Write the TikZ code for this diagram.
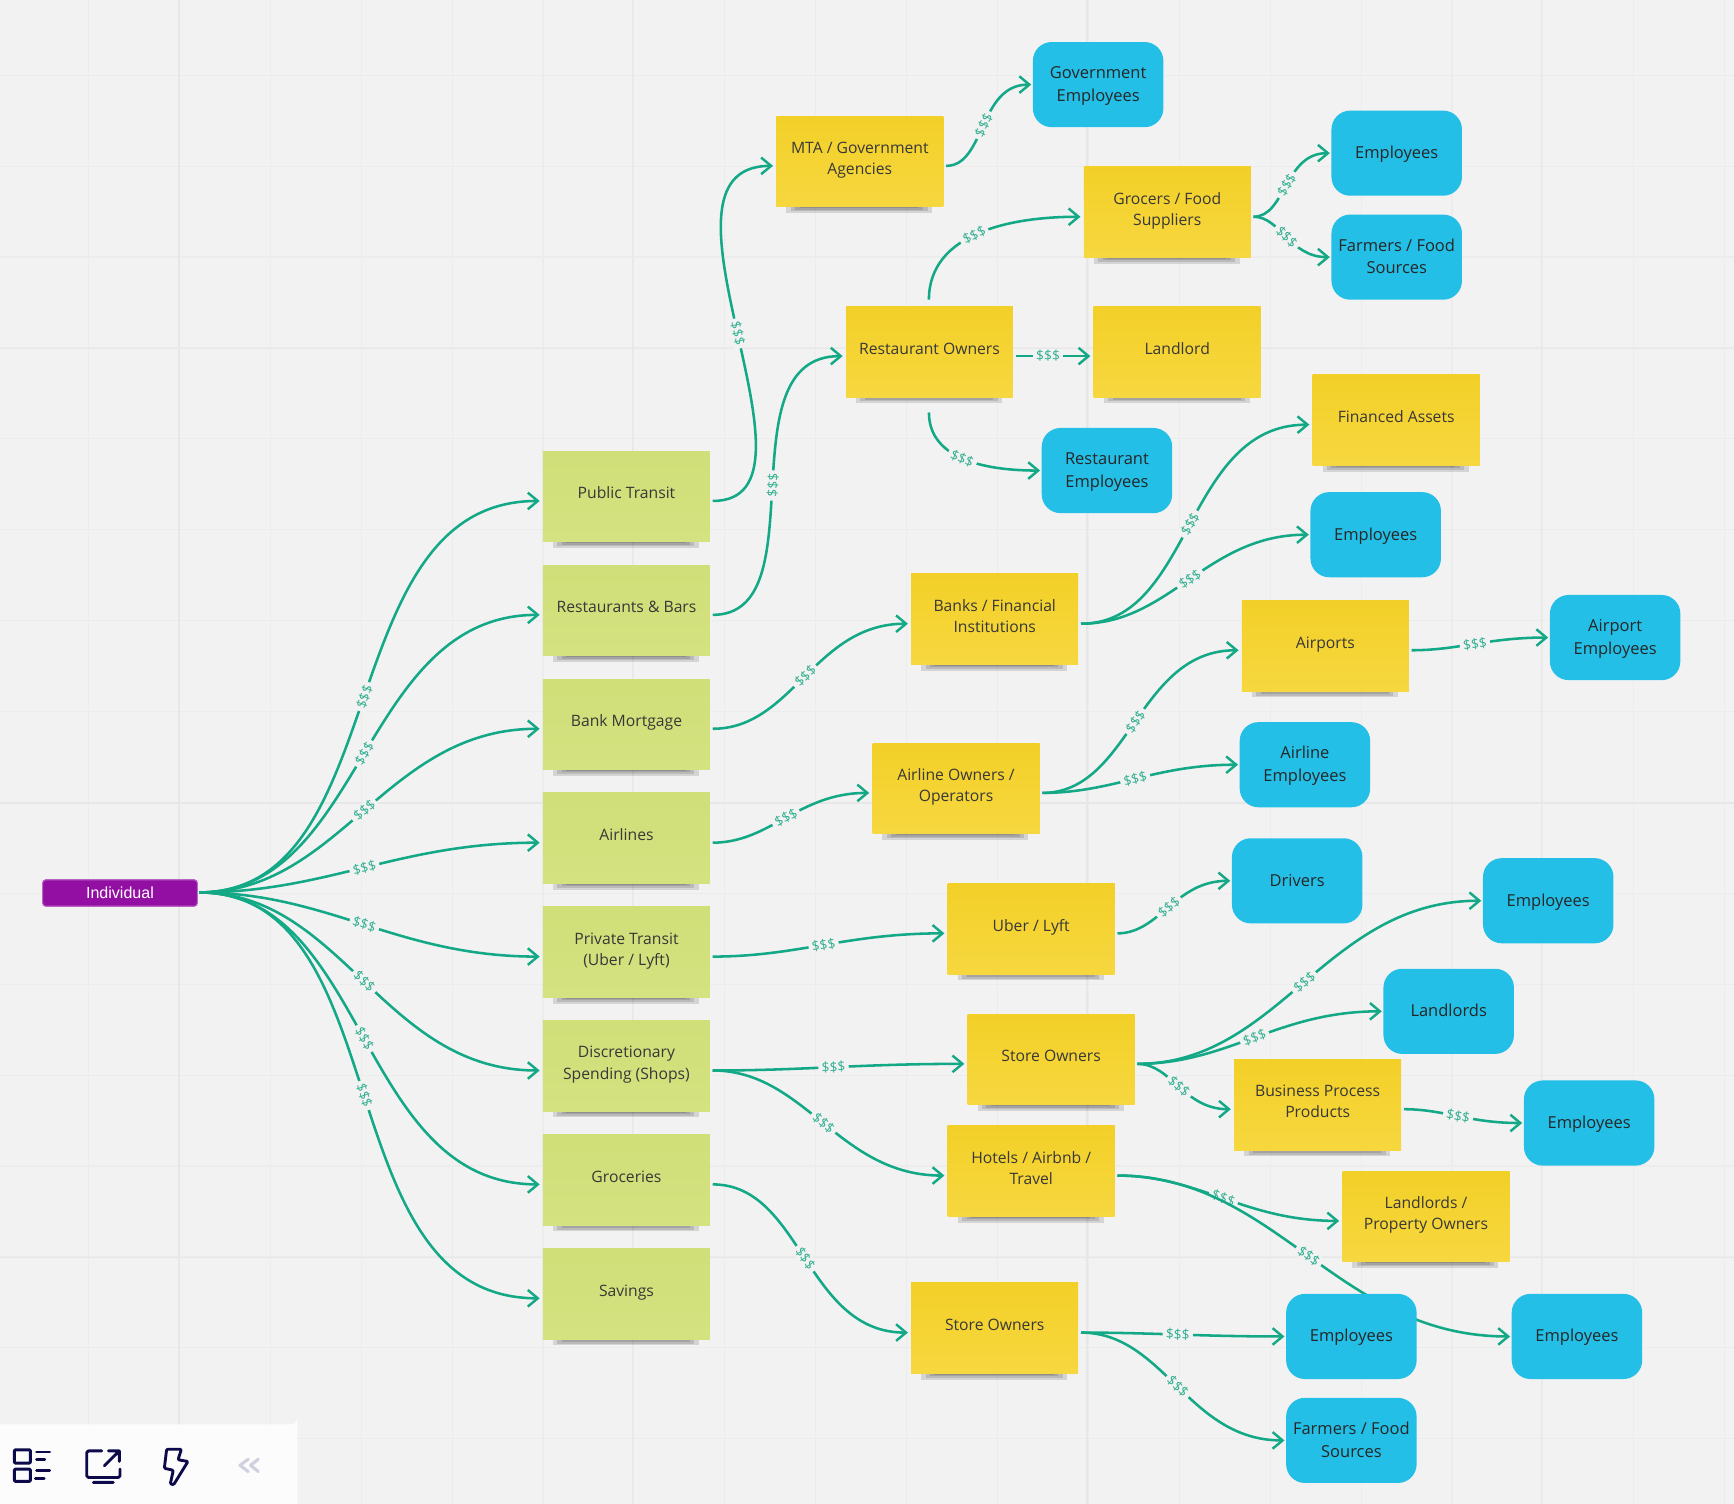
\documentclass[tikz,border=0pt]{standalone}
\usepackage{fontspec}
\setmainfont{Open Sans}
\newfontfamily\arialfont{Liberation Sans}
\usetikzlibrary{arrows.meta,calc}
\definecolor{bgc}{HTML}{F2F2F2}
\definecolor{gridc}{HTML}{ECECEC}
\definecolor{gridm}{HTML}{E7E7E7}
\definecolor{linkc}{HTML}{13A886}
\definecolor{moneyc}{HTML}{2FAF90}
\definecolor{greenn}{HTML}{D4E280}
\definecolor{greent}{HTML}{D0DF78}
\definecolor{yellown}{HTML}{F6D73F}
\definecolor{yellowt}{HTML}{F3D028}
\definecolor{bluen}{HTML}{23BFE7}
\definecolor{purplen}{HTML}{930FA3}
\definecolor{navy}{HTML}{0C0A4A}
\definecolor{chev}{HTML}{D0D0DE}
\definecolor{toolc}{HTML}{FCFCFD}
\pgfdeclarelayer{bglayer}
\pgfdeclarelayer{edgelayer}
\pgfsetlayers{bglayer,edgelayer,main}
\tikzset{
  x=1pt,y=-1pt,
  sticky/.style={minimum width=151pt,minimum height=82pt,inner sep=0pt,font=\fontsize{14.2}{19}\selectfont},
  greennote/.style={sticky,top color=greent,bottom color=greenn,text=black!78},
  yellownote/.style={sticky,top color=yellowt,bottom color=yellown,text=black!78},
  bluenote/.style={minimum width=118pt,minimum height=77pt,inner sep=0pt,rounded corners=17pt,fill=bluen,text=black!85,font=\fontsize{14.9}{20.5}\selectfont},
  link/.style={draw=linkc,line width=2.3pt,-{Straight Barb[length=9pt,width=15pt,line width=2.2pt]}},
  money/.style={sloped,fill=bgc,inner xsep=3pt,inner ysep=1pt,text=moneyc,font=\fontsize{12.5}{12.5}\selectfont},
  icon/.style={draw=navy,line width=2.6pt,line cap=round,line join=round},
  noteshadow/.style={fill=black,opacity=.12},
}
% name, cx, cy, style, text
\newcommand{\stickynote}[5]{%
  \fill[noteshadow] (#2-66,#3+41) rectangle (#2+66,#3+46.5);
  \fill[noteshadow] (#2-62,#3+41) rectangle (#2+62,#3+45);
  \fill[noteshadow] (#2-58,#3+41) rectangle (#2+58,#3+43.5);
  \fill[noteshadow] (#2-54,#3+41) rectangle (#2+54,#3+42);
  \node[#4] (#1) at (#2+.5,#3) {\raisebox{1.6pt}[\height][\depth]{\parbox{150pt}{\centering\strut #5\strut}}};
  \coordinate (#1-in) at (#2-78,#3+4);
  \coordinate (#1-out) at (#2+78.5,#3+4);
}
\newcommand{\bluebox}[4]{%
  \node[bluenote] (#1) at (#2,#3) {\raisebox{-.7pt}[\height][\depth]{\parbox{116pt}{\centering\strut #4\strut}}};
  \coordinate (#1-in) at (#2-60.5,#3);
}
% horizontal S-curve, slightly biased towards its source
\newcommand{\flow}[2]{%
  \draw[link] let \p1=(#1),\p2=(#2),\n1={veclen(\x2-\x1,\y2-\y1)*0.3915} in
    (#1) .. controls +({\n1-6},0) and +({-\n1-6},0) .. node[money] {\$\$\$} (#2);
}
\newcommand{\linkh}[2]{\flow{#1-out}{#2-in}}
\begin{document}
\begin{tikzpicture}
\useasboundingbox (0,0) rectangle (1568,1360);
\begin{pgfonlayer}{bglayer}
  \fill[bgc] (0,0) rectangle (1568,1360);
  \foreach \i in {0,...,19} {
    \draw[gridc,line width=1pt] ({80+82.2*\i},0) -- ({80+82.2*\i},1360);
  }
  \foreach \i in {0,...,16} {
    \draw[gridc,line width=1pt] (0,{68+82.2*\i}) -- (1568,{68+82.2*\i});
  }
  \foreach \i in {162,572,983,1394} { \draw[gridm,line width=1.4pt] (\i,0) -- (\i,1360); }
  \foreach \i in {315,726,1137} { \draw[gridm,line width=1.4pt] (0,\i) -- (1568,\i); }
\end{pgfonlayer}

% Individual
\node[minimum width=140pt,minimum height=24pt,inner sep=0pt,rounded corners=3pt,fill=purplen,draw=purplen!65,line width=1pt,text=white,font=\arialfont\fontsize{14.5}{14.5}\selectfont] (indiv) at (108.5,807.5) {Individual};
\coordinate (indiv-out) at (180,807);

% Green notes
\stickynote{pt}{566}{449}{greennote}{Public Transit}
\stickynote{rb}{566}{552}{greennote}{Restaurants \& Bars}
\stickynote{bm}{566}{655}{greennote}{Bank Mortgage}
\stickynote{al}{566}{758}{greennote}{Airlines}
\stickynote{pv}{566}{861}{greennote}{Private Transit\\(Uber / Lyft)}
\stickynote{ds}{566}{964}{greennote}{Discretionary\\Spending (Shops)}
\stickynote{gr}{566}{1067}{greennote}{Groceries}
\stickynote{sv}{566}{1170}{greennote}{Savings}

% Yellow notes
\stickynote{mta}{777}{146}{yellownote}{MTA / Government\\Agencies}
\stickynote{gf}{1055}{192}{yellownote}{Grocers / Food\\Suppliers}
\stickynote{ro}{840}{318}{yellownote}{Restaurant Owners}
\stickynote{ll}{1064}{318}{yellownote}{Landlord}
\stickynote{fa}{1262}{380}{yellownote}{Financed Assets}
\stickynote{bf}{899}{560}{yellownote}{Banks / Financial\\Institutions}
\stickynote{ap}{1198}{584}{yellownote}{Airports}
\stickynote{ao}{864}{713}{yellownote}{Airline Owners /\\Operators}
\stickynote{ub}{932}{840}{yellownote}{Uber / Lyft}
\stickynote{so}{950}{958}{yellownote}{Store Owners}
\stickynote{bp}{1191}{999}{yellownote}{Business Process\\Products}
\stickynote{ht}{932}{1059}{yellownote}{Hotels / Airbnb /\\Travel}
\stickynote{lp}{1289}{1100}{yellownote}{Landlords /\\Property Owners}
\stickynote{st}{899}{1201}{yellownote}{Store Owners}

% Blue boxes
\bluebox{ge}{993}{76.5}{Government\\Employees}
\bluebox{e1}{1263}{138.5}{Employees}
\bluebox{ff}{1263}{232.5}{Farmers / Food\\Sources}
\bluebox{re}{1001}{425.5}{Restaurant\\Employees}
\bluebox{e2}{1244}{483.5}{Employees}
\bluebox{ae}{1460.5}{576.5}{Airport\\Employees}
\bluebox{ai}{1180}{691.5}{Airline\\Employees}
\bluebox{dr}{1173}{796.5}{Drivers}
\bluebox{e3}{1400}{814.5}{Employees}
\bluebox{lo}{1310}{914.5}{Landlords}
\bluebox{e4}{1437}{1015.5}{Employees}
\bluebox{e5}{1426}{1208.5}{Employees}
\bluebox{e6}{1222}{1208.5}{Employees}
\bluebox{f2}{1222}{1302.5}{Farmers / Food\\Sources}

\begin{pgfonlayer}{edgelayer}
\linkh{indiv}{pt}
\linkh{indiv}{rb}
\linkh{indiv}{bm}
\linkh{indiv}{al}
\linkh{indiv}{pv}
\linkh{indiv}{ds}
\linkh{indiv}{gr}
\linkh{indiv}{sv}
\linkh{pt}{mta}
\linkh{rb}{ro}
\linkh{bm}{bf}
\linkh{al}{ao}
\linkh{pv}{ub}
\linkh{ds}{so}
\linkh{ds}{ht}
\linkh{gr}{st}
\linkh{mta}{ge}
\coordinate (ro-top) at (840,271);
\coordinate (ro-bot) at (840,373);
\draw[link] (ro-top) to[out=90,in=180] node[money,pos=.47] {\$\$\$} (gf-in);
\linkh{ro}{ll}
\draw[link] (ro-bot) to[out=-90,in=180] node[money,pos=.47] {\$\$\$} (re-in);
\linkh{gf}{e1}
\linkh{gf}{ff}
\linkh{bf}{fa}
\linkh{bf}{e2}
\linkh{ao}{ap}
\linkh{ao}{ai}
\linkh{ap}{ae}
\linkh{ub}{dr}
\linkh{so}{e3}
\linkh{so}{lo}
\linkh{so}{bp}
\linkh{bp}{e4}
\linkh{ht}{lp}
\linkh{ht}{e5}
\linkh{st}{e6}
\linkh{st}{f2}
\end{pgfonlayer}

% Toolbar
\fill[toolc] (0,1288) -- (263,1288) arc[start angle=90,end angle=0,radius=6] -- (269,1360) -- (0,1360) -- cycle;
\draw[icon,rounded corners=.8pt] (13,1311) rectangle (27.5,1323);
\draw[icon,rounded corners=.8pt] (13,1328.5) rectangle (27.5,1339.5);
\draw[icon] (33,1313) -- (45,1313) (33,1320) -- (40.5,1320) (33,1330) -- (45,1330) (32,1337) -- (40,1337);
\draw[icon,rounded corners=1.5pt] (92,1312) -- (78.4,1312) -- (78.4,1336) -- (108.5,1336) -- (108.5,1328.5);
\draw[icon] (84.4,1340.5) -- (102.5,1340.5) (94.3,1325.5) -- (107.9,1312) (98,1312) -- (107.9,1312) -- (107.9,1321.5);
\draw[icon,rounded corners=1pt] (150.7,1310.5) -- (164,1310.5) -- (161,1320) -- (170,1321.5) -- (157,1342.6) -- (154,1341.8) -- (156.7,1329.5) -- (148.6,1327.7) -- cycle;
\draw[chev,line width=2.8pt,line cap=round,line join=round] (224.5,1319.5) -- (217,1325) -- (224.5,1330.7) (233.6,1319.5) -- (226.6,1325) -- (233.6,1330.7);
\end{tikzpicture}
\end{document}
